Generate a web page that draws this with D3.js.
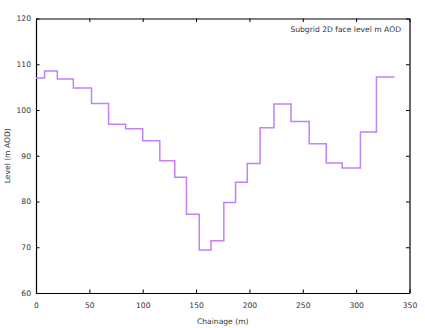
<!DOCTYPE html>
<html>
<head>
<meta charset="utf-8">
<script src="https://cdn.jsdelivr.net/npm/d3@7"></script>
<style>
  html, body { margin: 0; padding: 0; background: #fff; }
  svg { display: block; }
  text { font-family: "DejaVu Sans", Verdana, sans-serif; fill: #333; }
</style>
</head>
<body>
<svg id="chart" width="425" height="328"></svg>
<script>
// Chainage breakpoints (m) bounding each face section
const chainage = [0, 8, 20, 35, 52, 68, 84, 100, 116, 130, 141, 153, 164, 176, 187, 198, 210, 223, 239, 256, 272, 287, 304, 319, 336];
// Subgrid 2D face level per section (m AOD)
const faceLevel = [107.0, 108.5, 106.8, 104.8, 101.4, 96.9, 95.9, 93.3, 88.9, 85.3, 77.2, 69.4, 71.4, 79.8, 84.2, 88.3, 96.1, 101.3, 97.5, 92.6, 88.4, 87.3, 95.2, 107.2];
const xTicks = [0, 50, 100, 150, 200, 250, 300, 350];
const yTicks = [60, 70, 80, 90, 100, 110, 120];

const margin = { left: 36, right: 15.5, top: 18.5, bottom: 35 };
const W = 425, H = 328;
const svg = d3.select("#chart");

const x = d3.scaleLinear().domain([0, 350]).range([margin.left, W - margin.right]);
const y = d3.scaleLinear().domain([60, 120]).range([H - margin.bottom, margin.top]);

const tickLen = 3.5;
const fontSize = "7.6px";

// Bottom axis with inward ticks
const gx = svg.append("g").attr("transform", `translate(0,${y(60)})`)
  .call(d3.axisBottom(x).tickValues(xTicks).tickFormat(d3.format("d")).tickSizeInner(-tickLen).tickSizeOuter(0).tickPadding(10));
// Left axis with inward ticks
const gy = svg.append("g").attr("transform", `translate(${x(0)},0)`)
  .call(d3.axisLeft(y).tickValues(yTicks).tickFormat(d3.format("d")).tickSizeInner(-tickLen).tickSizeOuter(0).tickPadding(5));
// Mirrored top and right ticks, no labels
const gt = svg.append("g").attr("transform", `translate(0,${y(120)})`)
  .call(d3.axisTop(x).tickValues(xTicks).tickFormat("").tickSizeInner(-tickLen).tickSizeOuter(0));
const gr = svg.append("g").attr("transform", `translate(${x(350)},0)`)
  .call(d3.axisRight(y).tickValues(yTicks).tickFormat("").tickSizeInner(-tickLen).tickSizeOuter(0));

[gx, gy, gt, gr].forEach(g => {
  g.select(".domain").attr("stroke", "#000").attr("stroke-width", 1.2);
  g.selectAll(".tick line").attr("stroke", "#000").attr("stroke-width", 1);
  g.selectAll(".tick text").style("font-size", fontSize).attr("fill", "#333")
    .style("font-family", "\"DejaVu Sans\", Verdana, sans-serif");
});

// Step line through the face levels
const pts = [];
faceLevel.forEach((v, i) => {
  pts.push([chainage[i], v]);
  pts.push([chainage[i + 1], v]);
});
const line = d3.line().x(d => x(d[0])).y(d => y(d[1]));
svg.append("path")
  .datum(pts)
  .attr("d", line)
  .attr("fill", "none")
  .attr("stroke", "#c080ff")
  .attr("stroke-width", 1.5);

// Legend entry
svg.append("text")
  .attr("x", 401).attr("y", 29.5)
  .attr("text-anchor", "end")
  .attr("dominant-baseline", "middle")
  .style("font-size", fontSize)
  .text("Subgrid 2D face level m AOD");

// Axis titles
svg.append("text")
  .attr("x", (x(0) + x(350)) / 2).attr("y", 322)
  .attr("text-anchor", "middle")
  .attr("dominant-baseline", "middle")
  .style("font-size", fontSize)
  .text("Chainage (m)");
svg.append("text")
  .attr("transform", `translate(8,${(y(60) + y(120)) / 2}) rotate(-90)`)
  .attr("text-anchor", "middle")
  .attr("dominant-baseline", "middle")
  .style("font-size", fontSize)
  .text("Level (m AOD)");
</script>
</body>
</html>
